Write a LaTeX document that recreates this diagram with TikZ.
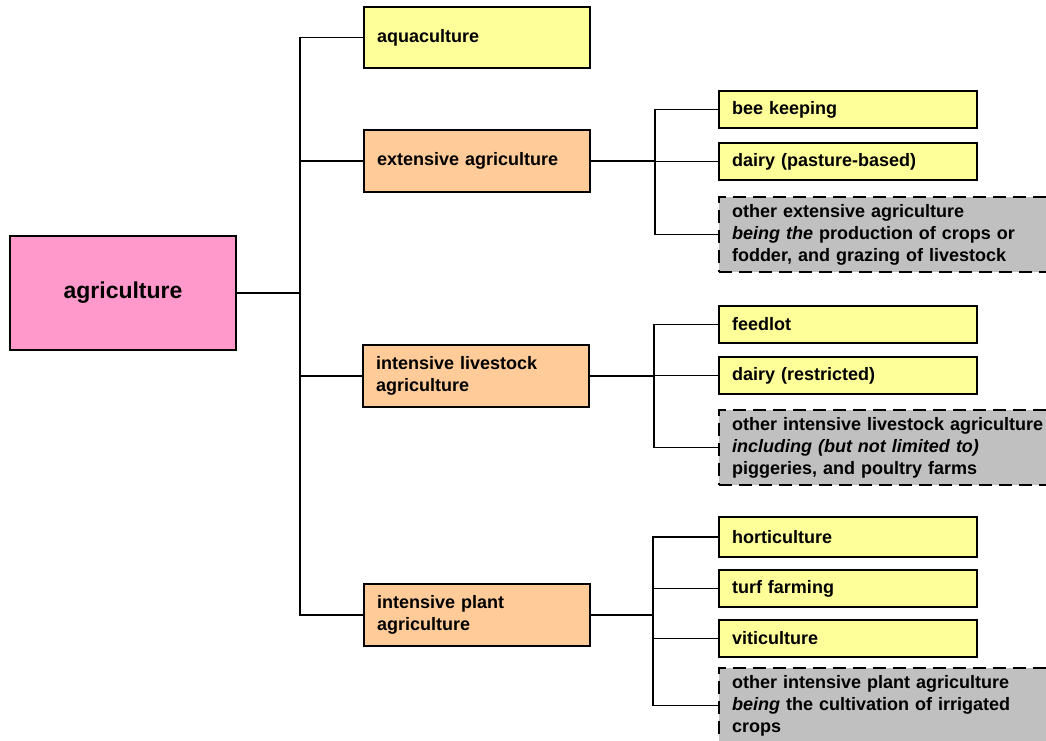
\documentclass[tikz,border=0pt]{standalone}
\usepackage{fontspec}
\setmainfont{Liberation Sans}
\usetikzlibrary{positioning}
\usetikzlibrary{shapes,backgrounds,calc}

\definecolor{rootpink}{HTML}{FF99CC}
\definecolor{grouporange}{HTML}{FFCC99}
\definecolor{leafyellow}{HTML}{FFFF99}
\definecolor{othergray}{HTML}{C0C0C0}

\begin{document}
\begin{tikzpicture}[x=1pt, y=-1pt, node distance=15pt, outer sep=0pt,
  font=\fontsize{18}{22}\selectfont\bfseries]
\tikzstyle{root}=[
                  draw=black,
                  line width=2pt,
                  rectangle,
                  fill=rootpink,
                  minimum width=226pt,
                  minimum height=114pt,
                  font=\fontsize{23}{28}\selectfont\bfseries,
                  anchor=north west]

\tikzstyle{group}=[
                  draw=black,
                  line width=2pt,
                  rectangle,
                  fill=grouporange,
                  text width=200pt,
                  align=left,
                  inner xsep=13pt,
                  minimum height=62pt,
                  anchor=north west]

\tikzstyle{leaf}=[
                  draw=black,
                  line width=2pt,
                  rectangle,
                  fill=leafyellow,
                  text width=232pt,
                  align=left,
                  inner xsep=13pt,
                  minimum height=37pt,
                  anchor=north west]

\tikzstyle{other}=[
                  draw=black,
                  line width=2pt,
                  dash pattern=on 13pt off 7pt,
                  rectangle,
                  fill=othergray,
                  text width=330pt,
                  align=left,
                  inner xsep=13pt,
                  minimum height=75pt,
                  anchor=north west]

\tikzstyle{conn}=[draw=black, line width=1.5pt]

\useasboundingbox (0,0) rectangle (1046,740);
\clip (0,0) rectangle (1046,740);

\node[root]  (agri)  at (10,236)  {agriculture};

\node[leaf, text width=200pt, minimum height=61pt] (aqua) at (364,7) {aquaculture};
\node[group] (ext)   at (364,130) {extensive agriculture};
\node[group] (live)  at (363,345) {intensive livestock\\agriculture};
\node[group] (plant) at (364,584) {intensive plant\\agriculture};

\node[leaf]  (bee)     at (719,91)              {bee keeping};
\node[leaf]  (dairyp)  [below=15pt of bee]      {dairy (pasture-based)};
\node[other] (otherext) at (719,197)            {other extensive agriculture\\\textit{being the} production of crops or\\fodder, and grazing of livestock};

\node[leaf]  (feedlot) at (719,306)             {feedlot};
\node[leaf]  (dairyr)  [below=14pt of feedlot]  {dairy (restricted)};
\node[other] (otherlive) at (719,410)           {other intensive livestock agriculture\\\textit{including (but not limited to)}\\piggeries, and poultry farms};

\node[leaf]  (horti)   at (719,517) [minimum height=40pt] {horticulture};
\node[leaf]  (turf)    [below=13pt of horti]    {turf farming};
\node[leaf]  (viti)    [below=13pt of turf]     {viticulture};
\node[other] (otherplant) at (719,668)          {other intensive plant agriculture\\\textit{being} the cultivation of irrigated\\crops};

% bus lines
\coordinate (trunk)    at ($(agri.east)+(64,0)$);
\coordinate (busext)   at ($(ext.east)+(65,0)$);
\coordinate (buslive)  at ($(live.east)+(65,0)$);
\coordinate (busplant) at ($(plant.east)+(63,0)$);

\draw[conn] (agri.east) -- (trunk) |- (aqua.west);
\draw[conn] (agri.east) -- (trunk) |- (ext.west);
\draw[conn] (agri.east) -- (trunk) |- (live.west);
\draw[conn] (agri.east) -- (trunk) |- (plant.west);

\draw[conn] (ext.east) -- (busext) |- (bee.west);
\draw[conn] (ext.east) -- (busext) |- (dairyp.west);
\draw[conn] (ext.east) -- (busext) |- (otherext.west);

\draw[conn] (live.east) -- (buslive) |- (feedlot.west);
\draw[conn] (live.east) -- (buslive) |- (dairyr.west);
\draw[conn] (live.east) -- (buslive) |- (otherlive.west);

\draw[conn] (plant.east) -- (busplant) |- (horti.west);
\draw[conn] (plant.east) -- (busplant) |- (turf.west);
\draw[conn] (plant.east) -- (busplant) |- (viti.west);
\draw[conn] (plant.east) -- (busplant) |- (otherplant.west);

\end{tikzpicture}
\end{document}
